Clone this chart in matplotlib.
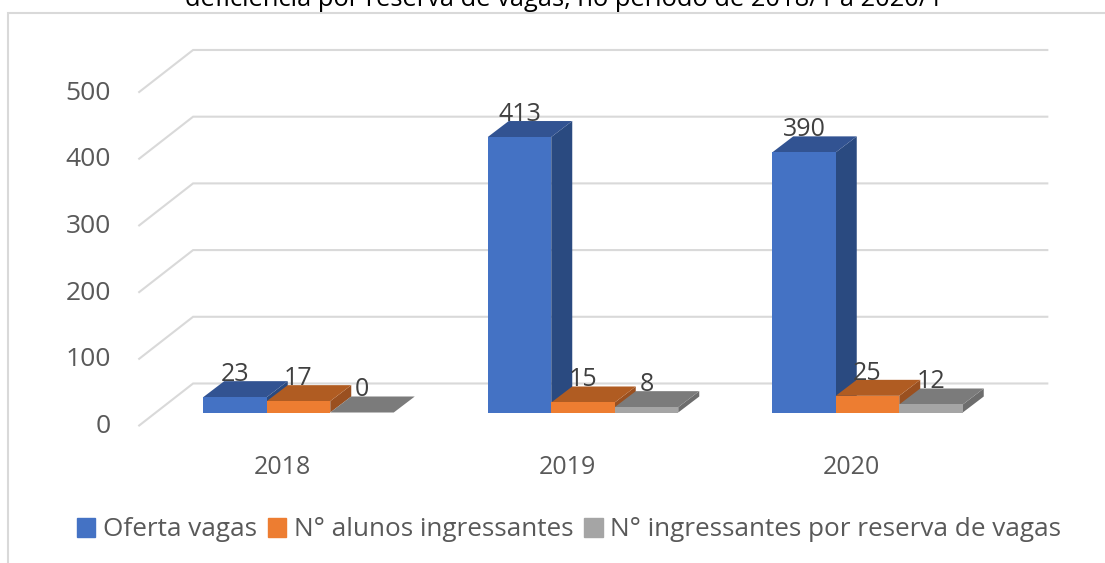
import matplotlib
matplotlib.use("Agg")
import matplotlib.pyplot as plt
from matplotlib.patches import Patch

plt.rcParams['font.family'] = ['Open Sans', 'DejaVu Sans']

# Data
title = "deficiência por reserva de vagas, no período de 2018/1 a 2020/1"
years = ['2018', '2019', '2020']
oferta = [23, 413, 390]
alunos = [17, 15, 25]
reserva = [0, 8, 12]
y_ticks = [0, 100, 200, 300, 400, 500]
names = ['Oferta vagas', 'N° alunos ingressantes', 'N° ingressantes por reserva de vagas']

front = ['#4472C4', '#ED7D31', '#A5A5A5']
top = ['#325392', '#B05C22', '#7B7B7B']
side = ['#2A4A80', '#9A5020', '#6D6D6D']

W, H = 1105, 563
px_x = 284.5          # pixels for one category
px_y = 0.667          # pixels for one unit of value
x0_px, y0_px = 298.5, 412.5   # where category 0, value 0 falls

fig = plt.figure(figsize=(W / 100, H / 100), dpi=100)
ax = fig.add_axes([0, 0, 1, 1])
ax.set_xlim(-x0_px / px_x, (W - x0_px) / px_x)
ax.set_ylim((y0_px - H) / px_y, y0_px / px_y)
ax.axis('off')

bar_w = 63.5 / px_x
dx, dy = 21 / px_x, 16 / px_y

# Back wall and left side gridlines
wall_l, wall_r = -0.3705, 2.632
wall_front = -0.56
for t in y_ticks:
    ax.plot([wall_front, wall_l, wall_r], [t - 19.5, t + 43.5, t + 43.5],
            color='#D9D9D9', lw=1.5, solid_joinstyle='miter', zorder=1)
    ax.text(-0.659, t - 21, str(t), ha='right', va='center',
            fontsize=19, color='#595959')

# Bars with fake depth
for s, values in enumerate([oferta, alunos, reserva]):
    for i, v in enumerate(values):
        x = i + (s - 1) * bar_w
        z = 3 + s
        l, r = x - bar_w / 2, x + bar_w / 2
        ax.fill([r, r + dx, r + dx, r], [0, dy, v + dy, v], color=side[s], lw=0, zorder=z)
        ax.fill([l, r, r + dx, l + dx], [v, v, v + dy, v + dy], color=top[s], lw=0, zorder=z)
        ax.bar(x, v, bar_w, color=front[s], lw=0, zorder=z)
        ax.text(x, v + 34, str(v), ha='center', va='center', fontsize=18,
                color='#404040', zorder=10)

for i, year in enumerate(years):
    ax.text(i - 0.056, -83, year, ha='center', va='center', fontsize=18, color='#595959')

# Chart border (only left and top show)
ax.plot([8 / W, 8 / W, 1], [0, 1 - 13 / H, 1 - 13 / H], transform=ax.transAxes,
        color='#D9D9D9', lw=1.5, solid_joinstyle='miter', zorder=0)

fig.text(563.5 / W, 1 - 6.5 / H, title, ha='center', va='baseline', fontsize=18.4, color='black')

handles = [Patch(color=c, label=n) for c, n in zip(front, names)]
fig.legend(handles=handles, ncol=3, loc='center', bbox_to_anchor=(569 / W, 1 - 530 / H),
           frameon=False, fontsize=18.8, labelcolor='#595959', handlelength=0.7,
           handleheight=0.7, handletextpad=0.3, columnspacing=0.42)

plt.savefig('out.png', dpi=100)
